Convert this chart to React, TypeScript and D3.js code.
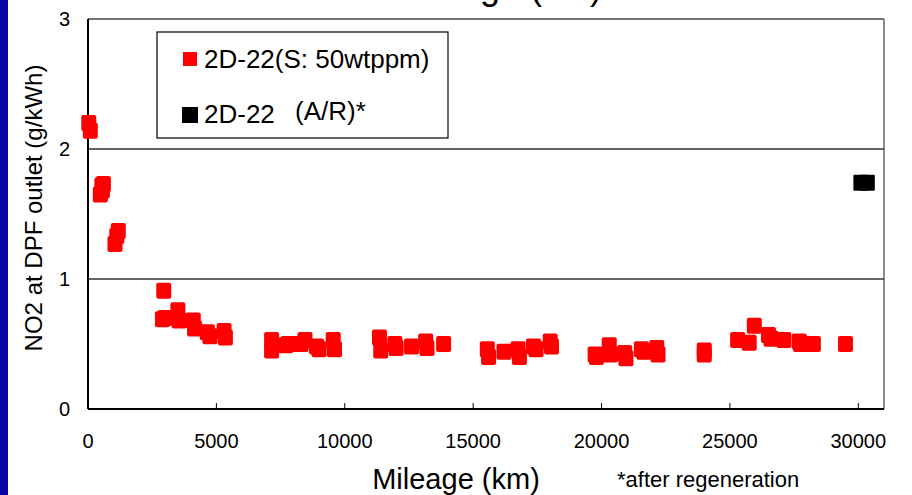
import * as d3 from 'd3';

// NO2 at DPF outlet vs mileage, 2D-22 (S: 50wtppm)
const redMileage = [
  30, 90,
  480, 540, 600, 560,
  1050, 1120, 1180,
  2950, 2900, 3000,
  3500, 3550,
  4100, 4150,
  4650, 4750,
  5300, 5350,
  7150, 7150, 7700, 7800, 8300, 8450, 8900, 9000, 9550, 9600,
  11350, 11400, 11950, 12000, 12600, 13150, 13200, 13850,
  15550, 15600, 16200, 16750, 16800, 17350, 17450, 18000, 18050,
  19750, 19800, 20300, 20350, 20900, 20950, 21550, 21650, 22150, 22200,
  24000, 24000,
  25300, 25750, 25950, 26500, 26600, 27100, 27700, 27750, 28250,
  29500,
];
const redNo2 = [
  2.2, 2.14,
  1.65, 1.72, 1.73, 1.68,
  1.27, 1.33, 1.37,
  0.91, 0.69, 0.7,
  0.76, 0.68,
  0.68, 0.62,
  0.59, 0.56,
  0.6, 0.55,
  0.53, 0.45, 0.49, 0.5, 0.5, 0.53, 0.48, 0.46, 0.53, 0.46,
  0.55, 0.45, 0.5, 0.47, 0.48, 0.52, 0.47, 0.5,
  0.46, 0.4, 0.44, 0.46, 0.4, 0.48, 0.46, 0.52, 0.48,
  0.42, 0.4, 0.49, 0.42, 0.43, 0.39, 0.46, 0.44, 0.47, 0.42,
  0.45, 0.42,
  0.53, 0.51, 0.64, 0.57, 0.54, 0.53, 0.52, 0.5, 0.5,
  0.5,
];

// after regeneration
const arMileage = [30100, 30350];
const arNo2 = [1.74, 1.74];

const xTicks = [0, 5000, 10000, 15000, 20000, 25000, 30000];
const yTicks = [0, 1, 2, 3];
const gridValues = [1, 2];

const W = 912;
const H = 495;
const left = 88;
const right = 884;
const top = 19;
const bottom = 409;
const font = 'Arial, "Liberation Sans", sans-serif';

export default function App() {
  const x = d3.scaleLinear().domain([0, 31000]).range([left, right]);
  const y = d3.scaleLinear().domain([0, 3]).range([bottom, top]);

  const mw = 15;
  const mh = 16;

  return (
    <svg
      width={W}
      height={H}
      style={{ position: 'absolute', left: 0, top: 0, background: '#fff' }}
      fontFamily={font}
    >
      <rect x={0} y={0} width={W} height={H} fill="#fff" />
      <rect x={0} y={0} width={8} height={H} fill="#0505a5" />

      {/* slide title, cut off by the top edge */}
      <text x={394} y={-1.5} fontSize={36} fill="#000">Mileage (km)</text>

      {/* plot frame */}
      <line x1={left} x2={right} y1={top} y2={top} stroke="#444" strokeWidth={1.5} />
      <line x1={right} x2={right} y1={top} y2={bottom} stroke="#666" strokeWidth={1.5} />

      {gridValues.map((v) => (
        <line key={v} x1={left} x2={right} y1={y(v)} y2={y(v)} stroke="#333" strokeWidth={1.5} />
      ))}

      <line x1={left} x2={left} y1={top} y2={bottom} stroke="#000" strokeWidth={2} />
      <line x1={left} x2={right} y1={bottom} y2={bottom} stroke="#000" strokeWidth={2} />

      {xTicks.map((t) => (
        <g key={t}>
          {t > 0 && <line x1={x(t)} x2={x(t)} y1={bottom} y2={bottom - 6} stroke="#000" strokeWidth={1} />}
          <text x={x(t)} y={448} fontSize={20} textAnchor="middle">{t}</text>
        </g>
      ))}

      {yTicks.map((t) => (
        <text key={t} x={70} y={y(t)} fontSize={20} textAnchor="end" dominantBaseline="central">
          {t}
        </text>
      ))}

      {redMileage.map((m, i) => (
        <rect
          key={'r' + i}
          x={x(m) - mw / 2}
          y={y(redNo2[i]) - mh / 2}
          width={mw}
          height={mh}
          rx={2}
          fill="#ff0000"
        />
      ))}
      {arMileage.map((m, i) => (
        <rect
          key={'b' + i}
          x={x(m) - mw / 2}
          y={y(arNo2[i]) - mh / 2}
          width={mw}
          height={mh}
          rx={1}
          fill="#000"
        />
      ))}

      {/* legend */}
      <rect x={157} y={32} width={291} height={106} fill="#fff" stroke="#000" strokeWidth={1.2} />
      <rect x={183} y={52} width={14} height={14} fill="#ff0000" />
      <text x={204} y={68} fontSize={26}>2D-22(S: 50wtppm)</text>
      <rect x={182} y={107} width={16} height={16} fill="#000" />
      <text x={204} y={123} fontSize={26}>2D-22</text>
      <text x={295} y={120} fontSize={26}>(A/R)*</text>

      <text
        transform="translate(33,208) rotate(-90)"
        fontSize={24}
        textAnchor="middle"
        dominantBaseline="central"
      >
        NO2 at DPF outlet (g/kWh)
      </text>

      <text x={456} y={489} fontSize={29} textAnchor="middle">Mileage (km)</text>
      <text x={617} y={487} fontSize={22}>*after regeneration</text>
    </svg>
  );
}
